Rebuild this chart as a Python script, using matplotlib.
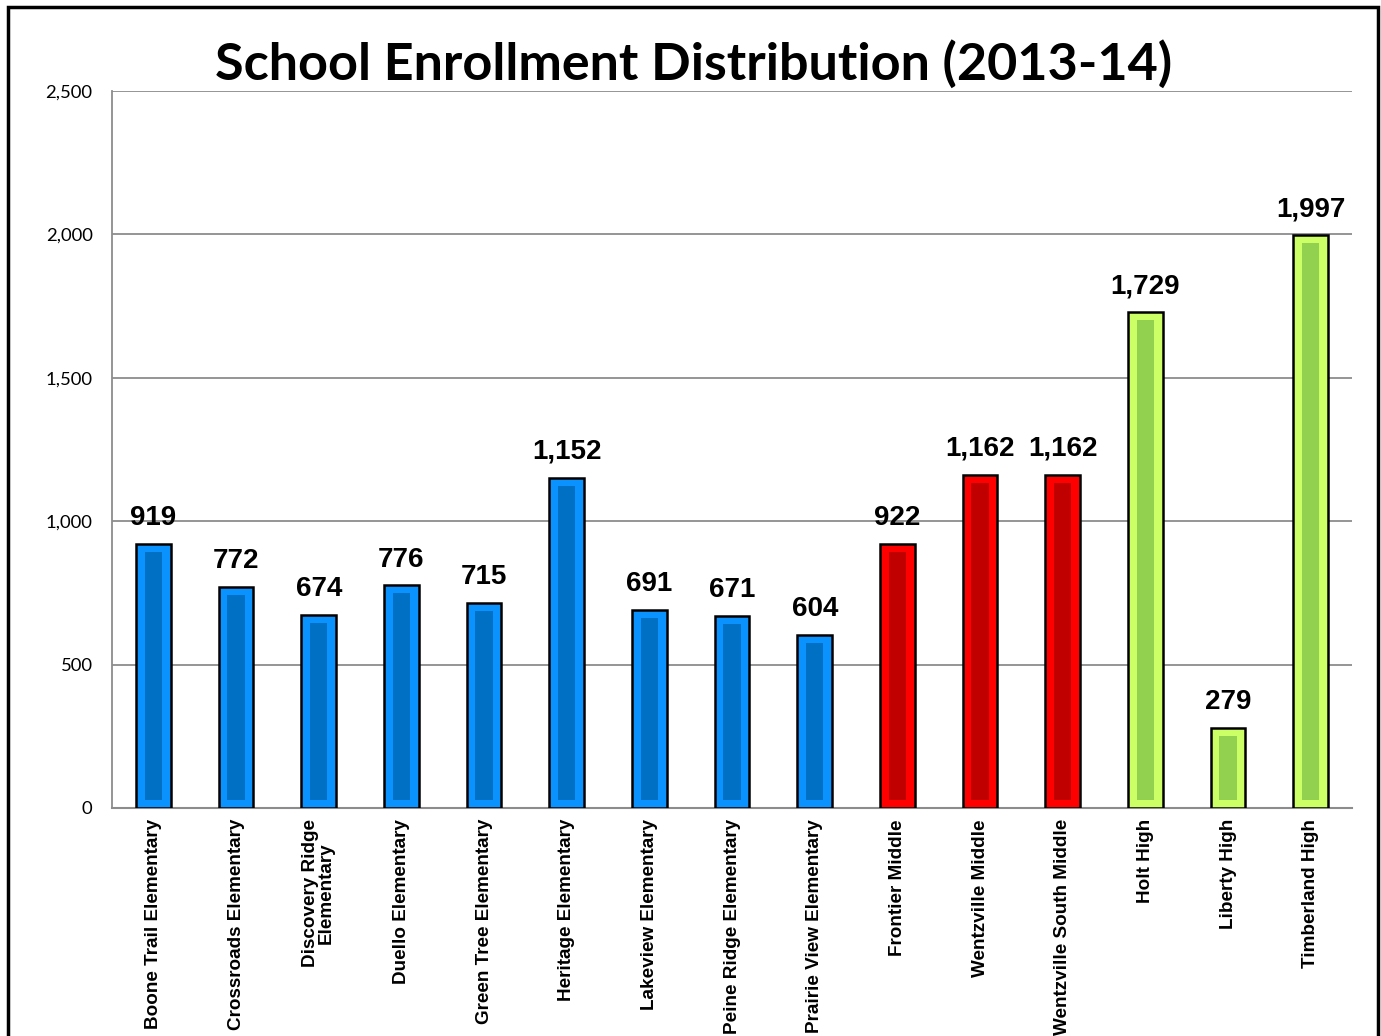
import matplotlib
matplotlib.use("Agg")
import matplotlib.pyplot as plt
from matplotlib.patches import Rectangle
import numpy as np

# chart data
schools = ["Boone Trail Elementary", "Crossroads Elementary", "Discovery Ridge\nElementary",
           "Duello Elementary", "Green Tree Elementary", "Heritage Elementary",
           "Lakeview Elementary", "Peine Ridge Elementary", "Prairie View Elementary",
           "Frontier Middle", "Wentzville Middle", "Wentzville South Middle",
           "Holt High", "Liberty High", "Timberland High"]
enrollment = [919, 772, 674, 776, 715, 1152, 691, 671, 604, 922, 1162, 1162, 1729, 279, 1997]
level = ["elem"] * 9 + ["middle"] * 3 + ["high"] * 3
yticks = [0, 500, 1000, 1500, 2000, 2500]

# outer (bevel) and inner colours per level
outer_col = {"elem": "#0A93FF", "middle": "#FF0000", "high": "#CCFF66"}
inner_col = {"elem": "#0070C4", "middle": "#C00000", "high": "#92D050"}

fig = plt.figure(figsize=(13.81, 10.36), dpi=100)
ax = fig.add_axes([0.0811, 0.2201, 0.898, 0.6921])

x = np.arange(len(schools))
w = 0.42
w_in = 0.21
inset = 28

ax.set_xlim(-0.5, len(schools) - 0.5)
ax.set_ylim(0, 2500)

# gridlines behind bars
ax.set_yticks(yticks)
ax.yaxis.grid(True, color="#8c8c8c", lw=1.3)
ax.set_axisbelow(True)

for i, v in enumerate(enrollment):
    lv = level[i]
    ax.bar(x[i], v, width=w, color=outer_col[lv], edgecolor="black", lw=1.8, zorder=3)
    ax.bar(x[i], v - 2 * inset, bottom=inset, width=w_in, color=inner_col[lv], lw=0, zorder=4)
    ax.text(x[i], v + 45, f"{v:,}", ha="center", va="bottom", fontsize=20,
            fontweight="bold", family="Liberation Sans", zorder=5)

ax.set_yticklabels([f"{t:,}" for t in yticks], family="Lato", fontsize=13.3)
ax.set_xticks(x)
ax.set_xticklabels(schools, rotation=90, fontsize=13.6, fontweight="bold",
                   family="Liberation Sans", va="top", ha="center", linespacing=0.9)
ax.tick_params(axis="both", length=0)
ax.tick_params(axis="x", pad=8)
ax.tick_params(axis="y", pad=14)

for s in ["top", "right"]:
    ax.spines[s].set_visible(False)
ax.spines["left"].set_color("#8c8c8c")
ax.spines["bottom"].set_color("#8c8c8c")
ax.spines["left"].set_linewidth(1.3)
ax.spines["bottom"].set_linewidth(1.5)

fig.text(0.502, 0.938, "School Enrollment Distribution (2013-14)", ha="center", va="center",
         fontsize=37.5, fontweight="bold", family="Lato")

# black frame around the slide
fig.patches.append(Rectangle((0.0055, -0.02), 0.9925, 1.0135, transform=fig.transFigure,
                             fill=False, edgecolor="black", lw=2.5))

fig.savefig("out.png", dpi=100)
